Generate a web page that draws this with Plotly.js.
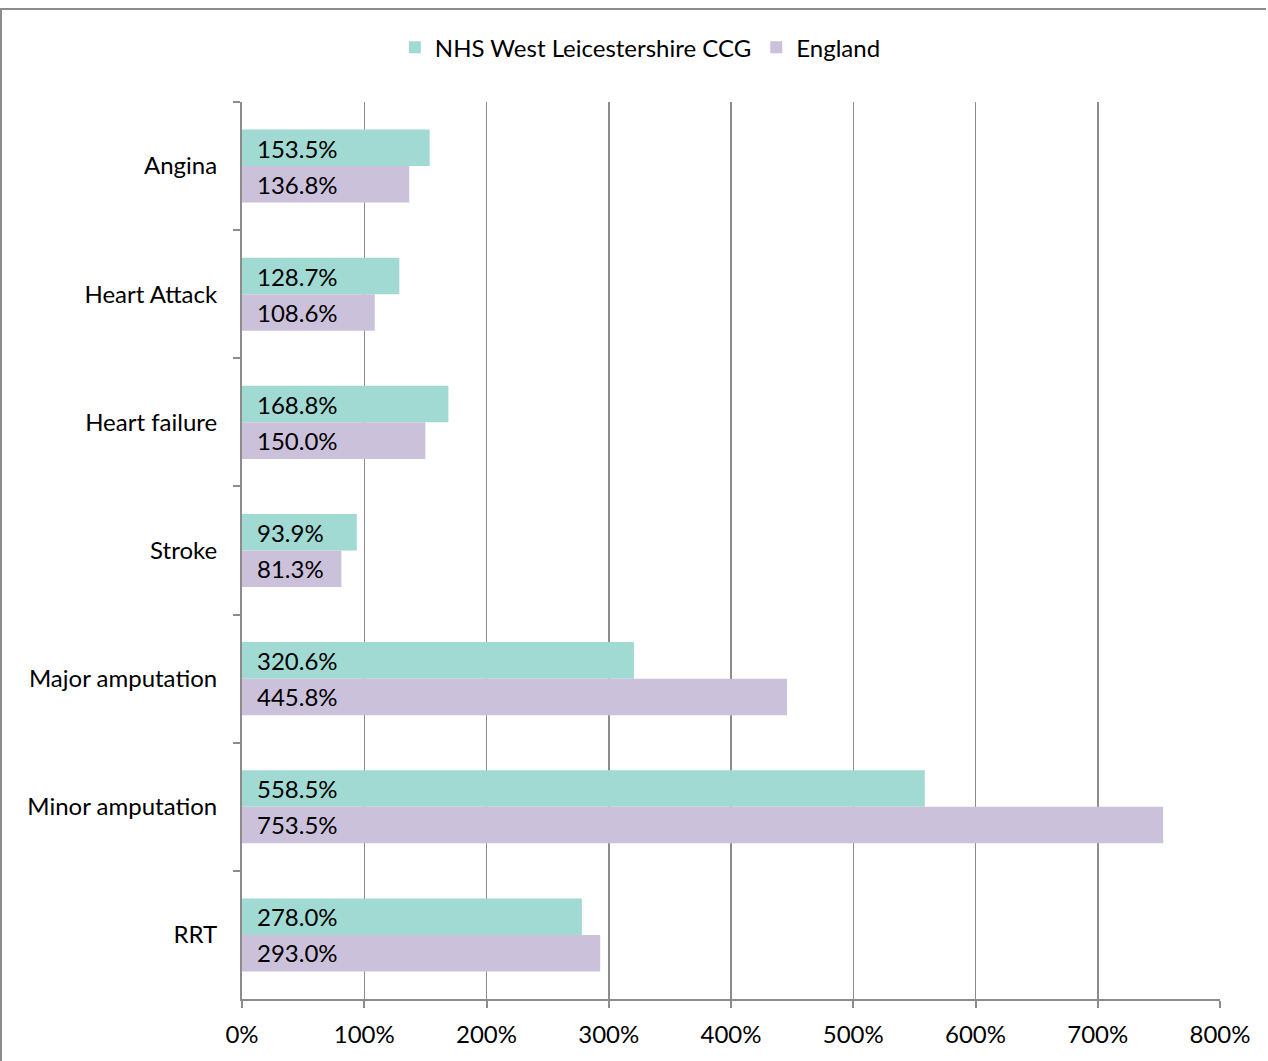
<!DOCTYPE html>
<html><head><meta charset="utf-8">
<script src="https://cdn.plot.ly/plotly-3.0.1.min.js"></script>
<style>
body{margin:0;padding:0;background:#fff;}
#frame{position:absolute;left:0;top:8px;width:1264px;height:1060px;border-top:2px solid #8c8c8c;border-left:2px solid #8c8c8c;box-sizing:content-box;}
#chart{position:absolute;left:0;top:0;width:1268px;height:1061px;}
</style>
</head><body>
<div id="frame"></div>
<div id="chart"></div>
<script>
const categories = ["Angina","Heart Attack","Heart failure","Stroke","Major amputation","Minor amputation","RRT"];
const ccgValues = [153.5,128.7,168.8,93.9,320.6,558.5,278.0];
const englandValues = [136.8,108.6,150.0,81.3,445.8,753.5,293.0];
const seriesNames = ["NHS West Leicestershire CCG","England"];
const xTickVals = [0,100,200,300,400,500,600,700,800];
const xTickText = ["0%","100%","200%","300%","400%","500%","600%","700%","800%"];

const FONT = "Lato, 'Open Sans', sans-serif";
const FS = 24;
const teal = "#A1DAD3", purple = "#CCC1DB";

const traces = [
 {type:"bar",orientation:"h",name:seriesNames[0],y:categories,x:ccgValues,marker:{color:teal},hoverinfo:"none"},
 {type:"bar",orientation:"h",name:seriesNames[1],y:categories,x:englandValues,marker:{color:purple},hoverinfo:"none"}
];

const annotations = [];
categories.forEach((c,i)=>{
  annotations.push({x:0,y:c,xref:"x",yref:"y",text:ccgValues[i].toFixed(1)+"%",showarrow:false,xanchor:"left",yanchor:"middle",xshift:13,yshift:18,font:{family:FONT,size:FS,color:"#000"}});
  annotations.push({x:0,y:c,xref:"x",yref:"y",text:englandValues[i].toFixed(1)+"%",showarrow:false,xanchor:"left",yanchor:"middle",xshift:13,yshift:-18,font:{family:FONT,size:FS,color:"#000"}});
});

const layout = {
  width:1268,height:1061,
  paper_bgcolor:"rgba(0,0,0,0)",plot_bgcolor:"rgba(0,0,0,0)",
  margin:{l:242,r:48,t:102,b:62},
  font:{family:FONT,size:FS,color:"#000"},
  barmode:"group",bargap:0.43,bargroupgap:0,
  showlegend:true,
  legend:{orientation:"h",xref:"container",yref:"container",x:0.505,y:0.955,xanchor:"center",yanchor:"middle",font:{family:FONT,size:FS,color:"#000"},itemwidth:30,traceorder:"normal"},
  xaxis:{range:[0,800],tickvals:xTickVals,ticktext:xTickText,showgrid:true,gridcolor:"#8c8c8c",gridwidth:1.5,
    showline:true,linecolor:"#8c8c8c",linewidth:2,ticks:"outside",ticklen:7,tickcolor:"#8c8c8c",tickwidth:2,zeroline:false,
    ticklabelstandoff:6,tickfont:{family:FONT,size:FS,color:"#000"},fixedrange:true},
  yaxis:{type:"category",autorange:"reversed",showline:true,linecolor:"#8c8c8c",linewidth:2,ticks:"outside",ticklen:7,tickcolor:"#8c8c8c",tickwidth:2,
    tickson:"boundaries",showgrid:false,ticklabelstandoff:18,tickfont:{family:FONT,size:FS,color:"#000"},fixedrange:true},
  annotations:annotations
};
Plotly.newPlot("chart",traces,layout,{displayModeBar:false,staticPlot:true});
</script>
</body></html>
